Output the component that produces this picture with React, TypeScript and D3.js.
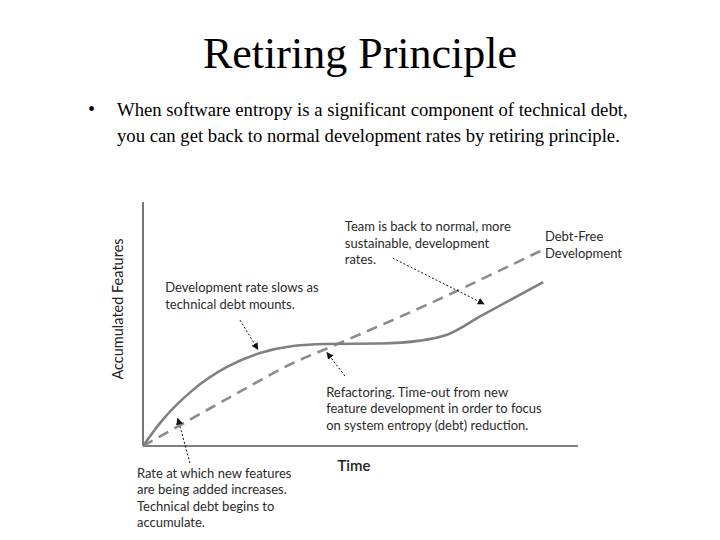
import React from "react";
import * as d3 from "d3";

const width = 720;
const height = 540;
const margin = { top: 202, right: 142, bottom: 94, left: 143 };

// slide text
const title = "Retiring Principle";
const bulletLines = [
  "When software entropy is a significant component of technical debt,",
  "you can get back to normal development rates by retiring principle.",
];

// solid curve: development with retiring principle
const retiringTime = [0, 3.9, 11.5, 19.3, 26.9, 34.5, 42, 54.5, 63.7, 69.9, 77.5, 92];
const retiringFeatures = [0, 9.4, 23, 32.4, 38.1, 41, 41.8, 42, 43.2, 45.6, 53.1, 67.2];

// dashed line: debt free development
const debtFreeTime = [0, 12, 23, 34.5, 43, 63.7, 92];
const debtFreeFeatures = [0, 12, 23, 34, 40.5, 56.6, 80.5];

// annotations (text, then where they sit in chart units)
const notes = [
  {
    lines: ["Development rate slows as", "technical debt mounts."],
    at: [5.1, 64.8],
    from: [22.3, 51.6],
    to: [26.4, 39.6],
  },
  {
    lines: ["Team is back to normal, more", "sustainable, development", "rates."],
    at: [46.4, 89.8],
    from: [57.4, 77],
    to: [78.4, 58.2],
  },
  {
    lines: ["Debt-Free", "Development"],
    at: [92.4, 85.7],
    from: null,
    to: null,
  },
  {
    lines: [
      "Refactoring. Time-out from new",
      "feature development in order to focus",
      "on system entropy (debt) reduction.",
    ],
    at: [42.1, 22.1],
    from: [46.4, 28.7],
    to: [42.3, 38.3],
  },
  {
    lines: [
      "Rate at which new features",
      "are being added increases.",
      "Technical debt begins to",
      "accumulate.",
    ],
    at: [-1.4, -11.1],
    from: [10.8, -7],
    to: [8, 11.3],
  },
];

const App = () => {
  const innerWidth = width - margin.left - margin.right;
  const innerHeight = height - margin.top - margin.bottom;

  const xScale = d3.scaleLinear().domain([0, 100]).range([0, innerWidth]);
  const yScale = d3.scaleLinear().domain([0, 100]).range([innerHeight, 0]);

  const retiring = retiringTime.map((t, i) => [t, retiringFeatures[i]] as [number, number]);
  const debtFree = debtFreeTime.map((t, i) => [t, debtFreeFeatures[i]] as [number, number]);

  const line = d3
    .line<[number, number]>()
    .x((d) => xScale(d[0]))
    .y((d) => yScale(d[1]))
    .curve(d3.curveMonotoneX);

  const noteFont = "Lato, 'Liberation Sans', sans-serif";
  const serif = "'Liberation Serif', 'Times New Roman', serif";

  return (
    <svg
      width={width}
      height={height}
      style={{ position: "absolute", left: 0, top: 0, background: "#fff" }}
    >
      <defs>
        <marker
          id="head"
          viewBox="0 0 10 10"
          refX="9"
          refY="5"
          markerWidth="7"
          markerHeight="7"
          orient="auto"
        >
          <path d="M0,0 L10,5 L0,10 z" fill="#111" />
        </marker>
      </defs>

      {/* title and bullet */}
      <text x={width / 2} y={68} textAnchor="middle" fontFamily={serif} fontSize={44} fill="#000">
        {title}
      </text>
      <text x={88} y={116} fontFamily={serif} fontSize={20}>
        •
      </text>
      {bulletLines.map((l, i) => (
        <text key={l} x={117} y={116 + i * 26} fontFamily={serif} fontSize={18.7} fill="#000">
          {l}
        </text>
      ))}

      <g transform={`translate(${margin.left},${margin.top})`}>
        {/* axes */}
        <line x1={0} y1={0} x2={0} y2={innerHeight} stroke="#555" strokeWidth={1.6} />
        <line
          x1={0}
          y1={innerHeight}
          x2={innerWidth}
          y2={innerHeight}
          stroke="#555"
          strokeWidth={1.6}
        />
        <text
          transform={`translate(${-20},${innerHeight / 2 - 15}) rotate(-90)`}
          textAnchor="middle"
          fontFamily={noteFont}
          fontSize={14.5}
          fill="#222"
        >
          Accumulated Features
        </text>
        <text
          x={xScale(48.5)}
          y={innerHeight + 25}
          textAnchor="middle"
          fontFamily={noteFont}
          fontSize={15}
          fontWeight={600}
          fill="#222"
        >
          Time
        </text>

        {/* series */}
        <path
          d={line(debtFree) || ""}
          fill="none"
          stroke="#8c8c8c"
          strokeWidth={2.6}
          strokeDasharray="11,7"
        />
        <path d={line(retiring) || ""} fill="none" stroke="#808080" strokeWidth={2.6} />

        {/* annotations */}
        {notes.map((n, k) => (
          <g key={k}>
            {n.lines.map((l, i) => (
              <text
                key={l}
                x={xScale(n.at[0])}
                y={yScale(n.at[1]) + i * 16.5}
                dy="0.35em"
                fontFamily={noteFont}
                fontSize={13}
                fill="#2a2a2a"
              >
                {l}
              </text>
            ))}
            {n.from && n.to && (
              <line
                x1={xScale(n.from[0])}
                y1={yScale(n.from[1])}
                x2={xScale(n.to[0])}
                y2={yScale(n.to[1])}
                stroke="#111"
                strokeWidth={1}
                strokeDasharray="2,2"
                markerEnd="url(#head)"
              />
            )}
          </g>
        ))}
      </g>
    </svg>
  );
};

export default App;
